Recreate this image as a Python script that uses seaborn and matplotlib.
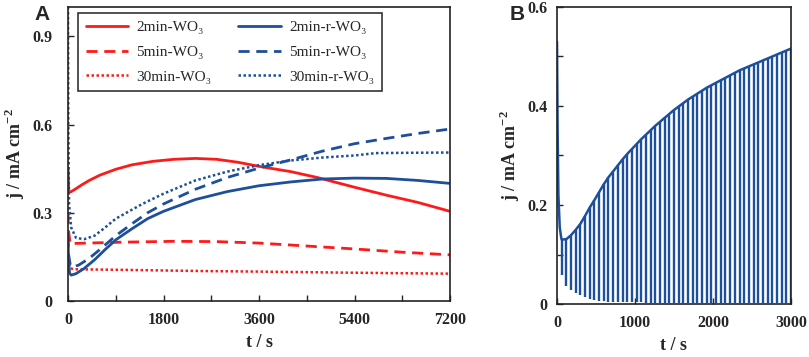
import numpy as np
import pandas as pd
import matplotlib
matplotlib.use("Agg")
import matplotlib.pyplot as plt
import seaborn as sns
from matplotlib.ticker import MultipleLocator

sns.set_style("ticks")
plt.rcParams["font.family"] = ["Liberation Serif", "DejaVu Serif"]
plt.rcParams["mathtext.fontset"] = "custom"
plt.rcParams["mathtext.rm"] = "Liberation Serif:bold"
plt.rcParams["mathtext.bf"] = "Liberation Serif:bold"

RED = "#ff1a1a"
BLUE = "#1d4f9a"

# panel A: long-time j-t curves
t_2min = [0, 15, 60, 150, 250, 400, 600, 900, 1200, 1600, 2000, 2400, 2800, 3200, 3600, 4200, 4700, 5400, 6000, 6600, 7200]
j_2min = [0.45, 0.37, 0.372, 0.382, 0.394, 0.41, 0.428, 0.448, 0.463, 0.475, 0.482, 0.485, 0.482, 0.472, 0.458, 0.44, 0.42, 0.387, 0.36, 0.335, 0.305]

t_5min = [0, 10, 40, 150, 1000, 2000, 2800, 3600, 4500, 5400, 6300, 7200]
j_5min = [0.30, 0.24, 0.195, 0.196, 0.200, 0.203, 0.202, 0.197, 0.187, 0.177, 0.166, 0.157]

t_30min = [0, 10, 40, 100, 1000, 2500, 3600, 5000, 6000, 7200]
j_30min = [0.16, 0.13, 0.112, 0.108, 0.106, 0.102, 0.100, 0.097, 0.095, 0.093]

t_2min_r = [0, 10, 30, 60, 150, 300, 500, 700, 900, 1200, 1500, 1800, 2400, 3000, 3600, 4200, 4800, 5400, 6000, 6600, 7200]
j_2min_r = [0.22, 0.14, 0.095, 0.088, 0.093, 0.11, 0.14, 0.175, 0.208, 0.245, 0.28, 0.305, 0.345, 0.372, 0.392, 0.405, 0.415, 0.418, 0.417, 0.41, 0.40]

t_5min_r = [0, 10, 40, 80, 200, 400, 600, 900, 1200, 1500, 1800, 2400, 3000, 3600, 4200, 4800, 5400, 6000, 6600, 7200]
j_5min_r = [0.22, 0.16, 0.125, 0.115, 0.122, 0.145, 0.175, 0.222, 0.262, 0.3, 0.33, 0.38, 0.42, 0.452, 0.48, 0.51, 0.535, 0.553, 0.57, 0.585]

t_30min_r = [0, 5, 20, 60, 150, 300, 500, 700, 900, 1400, 1800, 2400, 3000, 3600, 4200, 4800, 5400, 5800, 6400, 7200]
j_30min_r = [1.0, 0.6, 0.33, 0.25, 0.215, 0.21, 0.222, 0.25, 0.28, 0.33, 0.365, 0.41, 0.44, 0.462, 0.478, 0.488, 0.495, 0.503, 0.504, 0.505]

# panel B: chopped-light response of 30min-r-WO3
b_start_t = [0, 8, 18, 35, 55]
b_start_j = [0.53, 0.35, 0.22, 0.155, 0.133]
pulse_t = list(range(60, 3001, 60))
pulse_top = [0.130, 0.131, 0.139, 0.150, 0.162, 0.178, 0.195, 0.210, 0.226, 0.242,
             0.256, 0.268, 0.280, 0.292, 0.303, 0.313, 0.323, 0.333, 0.342, 0.351,
             0.360, 0.368, 0.376, 0.384, 0.392, 0.399, 0.406, 0.413, 0.419, 0.425,
             0.431, 0.437, 0.442, 0.447, 0.452, 0.457, 0.462, 0.467, 0.472, 0.476,
             0.480, 0.484, 0.488, 0.492, 0.496, 0.500, 0.504, 0.508, 0.512, 0.516]
pulse_bottom = [0.059, 0.036, 0.028, 0.022, 0.018, 0.015, 0.011, 0.009, 0.007, 0.006,
                0.005, 0.005, 0.004, 0.004, 0.004, 0.004, 0.004, 0.004, 0.003, 0.003,
                0.003, 0.003, 0.003, 0.003, 0.003, 0.003, 0.003, 0.003, 0.003, 0.003,
                0.003, 0.003, 0.003, 0.003, 0.003, 0.003, 0.003, 0.003, 0.003, 0.003,
                0.003, 0.003, 0.003, 0.003, 0.003, 0.003, 0.003, 0.003, 0.003, 0.003]

fig = plt.figure(figsize=(8.09, 3.57), dpi=100)
axA = fig.add_axes([68 / 809, 1 - 301 / 357, 382 / 809, 294 / 357])
axB = fig.add_axes([557 / 809, 1 - 304 / 357, 234 / 809, 297 / 357])

# order: red column first, blue column second (legend fills by column)
series = [
    (t_2min, j_2min, RED, "-", 2.0, "2min-WO₃"),
    (t_5min, j_5min, RED, (0, (4, 2.4)), 2.0, "5min-WO₃"),
    (t_30min, j_30min, RED, (0, (1, 1)), 1.8, "30min-WO₃"),
    (t_2min_r, j_2min_r, BLUE, "-", 2.0, "2min-r-WO₃"),
    (t_5min_r, j_5min_r, BLUE, (0, (4, 2.4)), 2.0, "5min-r-WO₃"),
    (t_30min_r, j_30min_r, BLUE, (0, (1, 1)), 1.8, "30min-r-WO₃"),
]
for t, j, c, ls, lw, lab in series:
    sns.lineplot(x=t, y=j, ax=axA, color=c, linestyle=ls, lw=lw, label=lab, sort=False)

axA.set_xlim(0, 7200)
axA.set_ylim(0, 1.0)
axA.set_xticks([0, 1800, 3600, 5400, 7200])
axA.xaxis.set_minor_locator(MultipleLocator(900))
axA.set_yticks([0, 0.3, 0.6, 0.9])
axA.set_yticklabels(["0", "0.3", "0.6", "0.9"])
axA.set_xlabel("t / s", fontsize=13, fontweight="bold")
axA.set_ylabel("j / mA cm$^{-2}$", fontsize=13, fontweight="bold")
leg = axA.legend(ncol=2, loc="upper left", bbox_to_anchor=(0.026, 0.98), fontsize=11,
                 frameon=True, fancybox=False, edgecolor="black", handlelength=2.8,
                 columnspacing=1.8, labelspacing=0.72, borderpad=0.5, borderaxespad=0,
                 handletextpad=0.5)
leg.get_frame().set_linewidth(1.2)

sns.lineplot(x=b_start_t + pulse_t, y=b_start_j + pulse_top, ax=axB, color=BLUE, lw=1.8, sort=False)
axB.vlines(pulse_t, pulse_bottom, pulse_top, color=BLUE, lw=1.7)
axB.set_xlim(0, 3000)
axB.set_ylim(0, 0.6)
axB.set_xticks([0, 1000, 2000, 3000])
axB.set_yticks([0, 0.2, 0.4, 0.6])
axB.set_yticklabels(["0", "0.2", "0.4", "0.6"])
axB.yaxis.set_minor_locator(MultipleLocator(0.1))
axB.set_xlabel("t / s", fontsize=13, fontweight="bold")
axB.set_ylabel("j / mA cm$^{-2}$", fontsize=13, fontweight="bold")

for ax in (axA, axB):
    for s in ax.spines.values():
        s.set_linewidth(1.2)
        s.set_color("#222222")
    ax.tick_params(which="both", direction="in", top=False, right=False)
    ax.tick_params(which="major", length=4, width=1.0, labelsize=11.5)
    ax.tick_params(which="minor", length=4, width=1.0)
    for lbl in ax.get_xticklabels() + ax.get_yticklabels():
        lbl.set_fontweight("bold")

axA.tick_params(axis="y", pad=11)
axA.tick_params(axis="x", pad=8)
axB.tick_params(axis="y", pad=7)
axB.tick_params(axis="x", pad=8)

fig.text(42 / 809, 1 - 14 / 357, "A", fontsize=15, fontweight="bold", family="Liberation Sans",
         ha="center", va="center")
fig.text(517 / 809, 1 - 15 / 357, "B", fontsize=15, fontweight="bold", family="Liberation Sans",
         ha="center", va="center")

fig.savefig("out.png", dpi=100)
